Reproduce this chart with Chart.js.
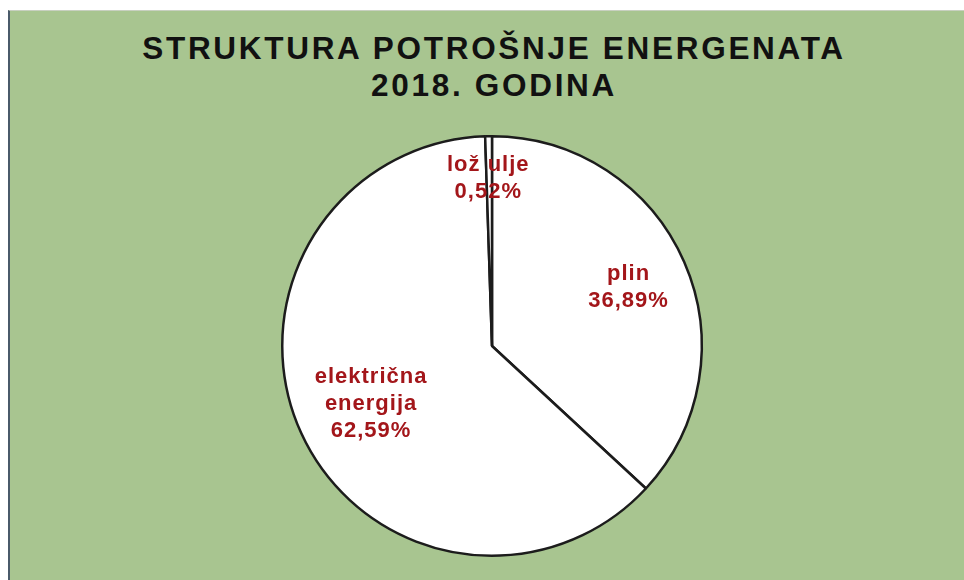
<!DOCTYPE html>
<html lang="hr">
<head>
<meta charset="UTF-8">
<title>Struktura potrošnje energenata 2018.</title>
<script src="https://cdn.jsdelivr.net/npm/chart.js"></script>
<style>
    body{
        margin:0;
        padding:0;
        background:#fff;
        font-family:"Liberation Sans",Arial,sans-serif;
    }
    /* zeleni okvir grafikona */
    .frame{
        position:absolute;
        left:8px;
        top:10px;
        width:956px;
        height:570px;
        background:#a8c590;
        border-left:2px solid #4a5a6a;
        border-top:1px solid #c8d0c0;
        box-sizing:border-box;
    }
    .title{
        position:absolute;
        left:7px;
        top:19px;
        width:100%;
        text-align:center;
        font-weight:700;
        font-size:31.5px;
        line-height:36.6px;
        letter-spacing:2.7px;
        color:#111;
    }
    canvas{
        position:absolute;
        left:0;
        top:0;
    }
</style>
</head>
<body>
<div class="frame">
    <div class="title">STRUKTURA POTROŠNJE ENERGENATA<br>2018. GODINA</div>
    <canvas id="pie" width="954" height="569"></canvas>
</div>

<script>
/* podaci */
const categories = ['plin', 'električna energija', 'lož ulje'];
const labelLines = [['plin'], ['električna', 'energija'], ['lož ulje']];
const shares     = [36.89, 62.59, 0.52];
const shareText  = ['36,89%', '62,59%', '0,52%'];

/* natpisi na kriškama */
const sliceLabels = {
    id:'sliceLabels',
    afterDatasetsDraw(chart, args, opts){
        const ctx = chart.ctx;
        const meta = chart.getDatasetMeta(0);
        ctx.save();
        ctx.fillStyle = opts.color;
        ctx.font = 'bold 22px "Liberation Sans", Arial, sans-serif';
        ctx.letterSpacing = '1px';
        ctx.textAlign = 'center';
        ctx.textBaseline = 'middle';
        meta.data.forEach((arc, i) => {
            const p = arc.getProps(['x','y','startAngle','endAngle','outerRadius'], true);
            const mid = (p.startAngle + p.endAngle) / 2;
            const r = p.outerRadius * opts.radius[i];
            const cx = p.x + Math.cos(mid) * r + opts.dx[i];
            const cy = p.y + Math.sin(mid) * r;
            const lines = labelLines[i].concat([shareText[i]]);
            const lh = 27;
            const y0 = cy - (lines.length - 1) * lh / 2;
            lines.forEach((t, k) => ctx.fillText(t, cx, y0 + k * lh));
        });
        ctx.restore();
    }
};

new Chart(document.getElementById('pie'), {
    type:'pie',
    data:{
        labels:categories,
        datasets:[{
            data:shares,
            backgroundColor:'#ffffff',
            borderColor:'#1c1c1c',
            borderWidth:2.5
        }]
    },
    options:{
        responsive:false,
        animation:false,
        layout:{ padding:{ top:124, bottom:23, left:10, right:0 } },
        plugins:{
            legend:{ display:false },
            tooltip:{ enabled:false },
            sliceLabels:{ color:'#a3161a', radius:[0.70, 0.66, 0.80], dx:[2, 5, -1] }
        }
    },
    plugins:[sliceLabels]
});
</script>
</body>
</html>
